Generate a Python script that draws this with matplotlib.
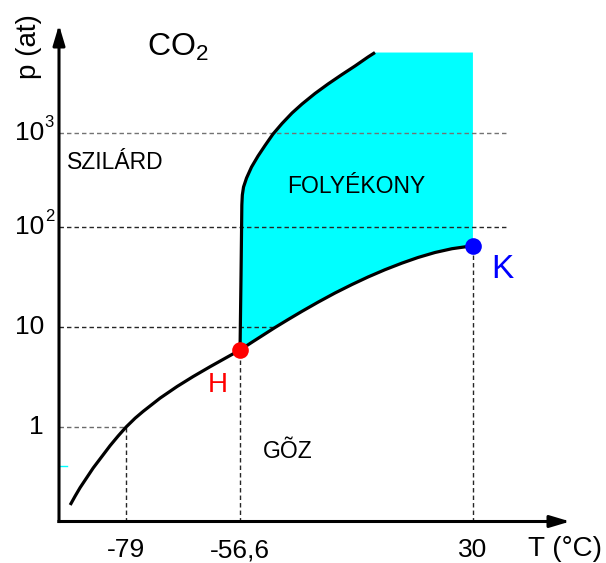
import numpy as np
import matplotlib
matplotlib.use("Agg")
import matplotlib.pyplot as plt
import matplotlib.transforms as mtransforms

plt.rcParams["font.family"] = ["Liberation Sans", "DejaVu Sans"]
plt.rcParams["mathtext.fontset"] = "custom"
plt.rcParams["mathtext.rm"] = "Liberation Sans"
plt.rcParams["mathtext.it"] = "Liberation Sans:italic"

# ---- CO2 phase diagram data (T in degC, p in at) ----
T_TRIPLE, P_TRIPLE = -56.6, 5.89
T_CRIT, P_CRIT = 30.0, 65.0
T_SUBL_1AT = -79.0

sublimation_T = [-90.00, -89.02, -88.04, -85.48, -82.14, -80.57, -79.00,
                 -77.23, -75.66, -72.32, -68.98, -65.84, -62.49, -59.15,
                 -56.60]
sublimation_p = [0.166, 0.204, 0.248, 0.389, 0.652, 0.813, 1.0,
                 1.225, 1.432, 1.945, 2.541, 3.192, 4.009, 4.989,
                 5.89]

vapor_T = [-56.60, -52.14, -43.59, -38.76, -33.56, -27.61, -21.29, -14.97,
           -9.03, -2.71, 3.61, 9.56, 15.87, 22.19, 30.00]
vapor_p = [5.89, 7.05, 9.89, 11.86, 14.35, 17.70, 21.88, 26.61,
           31.62, 37.41, 43.55, 49.55, 55.59, 60.67, 65.0]

melt_T = [-56.60, -56.23, -55.93, -55.75, -55.30, -54.18, -52.33, -49.91,
          -47.31, -44.33, -40.99, -37.27, -33.56, -28.73, -23.89, -18.69,
          -13.86, -9.03, -6.42]
melt_p = [5.89, 33.1, 171.5, 218.9, 266.4, 332.1, 434.8, 569.2,
          736.3, 975.9, 1262, 1632, 2034, 2633, 3322, 4192,
          5162, 6434, 7184]

T_ticks = [-79.0, -56.6, 30.0]
T_tick_labels = ["-79", "-56,6", "30"]
p_ticks = [1, 10, 100, 1000]
p_tick_base = ["1", "10", "10", "10"]
p_tick_exp = ["", "", "2", "3"]

T_min, T_max = -92.2, 66.1
p_min, p_max = 0.1135, 14100.0
T_guide_end = 43.0      # right end of the 10^2 and 10^3 guides
T_p10_on_curve = -43.3  # vapour curve at p = 10 at


# ---- axis scales: temperature stretched below the triple point,
#      pressure logarithmic with a compressed top decade ----
STRETCH = 1.891
TOP_DECADE = 0.94


def t_fwd(t):
    t = np.asarray(t, dtype=float)
    return np.where(t < T_TRIPLE, (t - T_TRIPLE) * STRETCH, t - T_TRIPLE)


def t_inv(u):
    u = np.asarray(u, dtype=float)
    return np.where(u < 0, u / STRETCH + T_TRIPLE, u + T_TRIPLE)


def p_fwd(p):
    p = np.asarray(p, dtype=float)
    lg = np.log10(np.maximum(p, 1e-300))
    return np.where(lg > 2, 2 + (lg - 2) * TOP_DECADE, lg)


def p_inv(u):
    u = np.asarray(u, dtype=float)
    lg = np.where(u > 2, 2 + (u - 2) / TOP_DECADE, u)
    return 10.0 ** lg


fig = plt.figure(figsize=(6.06, 5.63), dpi=100)
ax = fig.add_axes([59 / 606, 41.5 / 563, 511 / 606, 496.5 / 563])
ax.set_xscale("function", functions=(t_fwd, t_inv))
ax.set_yscale("function", functions=(p_fwd, p_inv))
ax.set_xlim(T_min, T_max)
ax.set_ylim(p_min, p_max)
for s in ax.spines.values():
    s.set_visible(False)

# liquid region
fill_T = melt_T + [T_CRIT] + vapor_T[::-1]
fill_p = melt_p + [melt_p[-1]] + vapor_p[::-1]
ax.fill(fill_T, fill_p, color="#00FFFF", lw=0, zorder=1)

# dashed guide lines
dash = dict(lw=1.0, dashes=(3.2, 2.2), zorder=2)
ax.plot([T_min, T_SUBL_1AT], [1, 1], color="0.42", **dash)
ax.plot([T_min, T_p10_on_curve], [10, 10], color="0.15", **dash)
ax.plot([T_min, T_guide_end], [100, 100], color="0.15", **dash)
ax.plot([T_min, T_guide_end], [1000, 1000], color="0.45", **dash)
ax.plot([T_SUBL_1AT, T_SUBL_1AT], [p_min, 1], color="0.15", **dash)
ax.plot([T_TRIPLE, T_TRIPLE], [p_min, P_TRIPLE], color="0.15", **dash)
ax.plot([T_CRIT, T_CRIT], [p_min, P_CRIT], color="0.15", **dash)

# phase boundaries
curve = dict(color="black", lw=2.3, solid_capstyle="butt",
             solid_joinstyle="round", zorder=3)
ax.plot(sublimation_T, sublimation_p, **curve)
ax.plot(vapor_T, vapor_p, **curve)
ax.plot(melt_T, melt_p, **curve)

# small cyan mark on the pressure axis
ax.plot([T_min, T_min + 1.6], [0.41, 0.41], color="#00FFFF", lw=1.0,
        zorder=2, clip_on=False)

# triple and critical points
ax.plot([T_TRIPLE], [P_TRIPLE], "o", color="#FF0000", ms=12, mew=0, zorder=4)
ax.plot([T_CRIT], [P_CRIT], "o", color="#0000FF", ms=12, mew=0, zorder=4)

# axes with arrow heads
arrow = dict(arrowstyle="-|>,head_length=0.6,head_width=0.18",
             mutation_scale=20, lw=2.2, color="black",
             shrinkA=0, shrinkB=0, capstyle="projecting")
ax.annotate("", xy=(1, 0), xytext=(0, 0), xycoords="axes fraction",
            textcoords="axes fraction", arrowprops=arrow,
            annotation_clip=False, zorder=5)
ax.annotate("", xy=(0, 1), xytext=(0, 0), xycoords="axes fraction",
            textcoords="axes fraction", arrowprops=arrow,
            annotation_clip=False, zorder=5)

# temperature ticks
ax.set_xticks(T_ticks, T_tick_labels)
ax.tick_params(axis="x", length=0, pad=12, labelsize=19)
ax.xaxis.set_minor_locator(matplotlib.ticker.NullLocator())

# pressure ticks drawn as base + exponent texts
ax.set_yticks(p_ticks)
ax.yaxis.set_minor_locator(matplotlib.ticker.NullLocator())
ax.tick_params(axis="y", left=False, labelleft=False)
blend = mtransforms.blended_transform_factory(ax.transAxes, ax.transData)
x_lab = -15 / 511
for p, base, exp in zip(p_ticks, p_tick_base, p_tick_exp):
    ax.text(x_lab, p, base, transform=blend, ha="right", va="center",
            fontsize=19, clip_on=False)
    if exp:
        ax.annotate(exp, xy=(x_lab, p), xycoords=blend, xytext=(0.5, 7.6),
                    textcoords="offset points", ha="left", va="center",
                    fontsize=12, annotation_clip=False)

# region and point labels
ax.text(-81.2, 490, "SZILÁRD", fontsize=16.5, ha="center", va="center")
ax.text(-13.5, 273, "FOLYÉKONY", fontsize=16.5, ha="center", va="center")
ax.text(-38.8, 0.575, "GÕZ", fontsize=16.5, ha="center", va="center")
ax.text(-60.9, 2.63, "H", fontsize=20, color="#FF0000",
        ha="center", va="center")
ax.text(40.8, 37.2, "K", fontsize=24, color="#0000FF",
        ha="center", va="center")
ax.text(-68.8, 8220, r"$\mathregular{CO_2}$", fontsize=23,
        ha="center", va="center")

# axis titles
fig.text(29 / 606, 1 - 47 / 563, "p (at)", rotation=90, fontsize=20,
         ha="center", va="center")
fig.text(565 / 606, 1 - 549 / 563, "T (°C)", fontsize=20,
         ha="center", va="center")

fig.savefig("out.png", dpi=100, facecolor="white")
